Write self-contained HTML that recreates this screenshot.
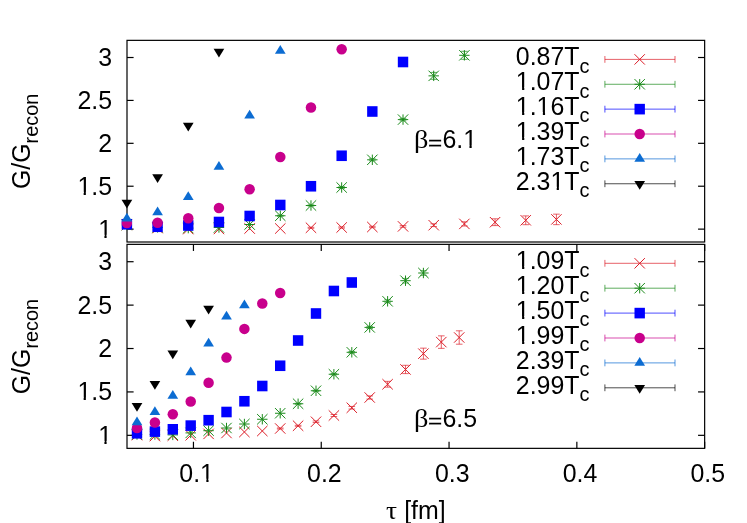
<!DOCTYPE html>
<html><head><meta charset="utf-8"><title>G/Grecon</title>
<style>
html,body{margin:0;padding:0;background:#fff;}
body{width:747px;height:523px;overflow:hidden;}
svg{display:block;will-change:transform;}
text{font-family:"Liberation Sans",sans-serif;fill:#000;font-kerning:none;}
text.sy{font-family:"Liberation Serif",serif;}
</style></head><body>
<svg width="747" height="523" viewBox="0 0 747 523">
<rect width="747" height="523" fill="#fff"/>
<rect x="127.0" y="40.35" width="577.65" height="201.65" fill="none" stroke="#000" stroke-width="1.2"/>
<line x1="127.00" y1="229.13" x2="133.60" y2="229.13" stroke="#000" stroke-width="1.2"/>
<line x1="704.65" y1="229.13" x2="698.05" y2="229.13" stroke="#000" stroke-width="1.2"/>
<text x="98.15" y="237.58" font-size="24.9">1</text>
<rect x="99.02" y="234.72" width="5.39" height="4.36" fill="#fff"/>
<rect x="106.61" y="234.72" width="5.18" height="4.36" fill="#fff"/>
<line x1="127.00" y1="186.22" x2="133.60" y2="186.22" stroke="#000" stroke-width="1.2"/>
<line x1="704.65" y1="186.22" x2="698.05" y2="186.22" stroke="#000" stroke-width="1.2"/>
<text x="77.39" y="194.67" font-size="24.9">1.5</text>
<rect x="78.26" y="191.81" width="5.39" height="4.36" fill="#fff"/>
<rect x="85.85" y="191.81" width="5.18" height="4.36" fill="#fff"/>
<line x1="127.00" y1="143.32" x2="133.60" y2="143.32" stroke="#000" stroke-width="1.2"/>
<line x1="704.65" y1="143.32" x2="698.05" y2="143.32" stroke="#000" stroke-width="1.2"/>
<text x="98.15" y="151.77" font-size="24.9">2</text>
<line x1="127.00" y1="100.42" x2="133.60" y2="100.42" stroke="#000" stroke-width="1.2"/>
<line x1="704.65" y1="100.42" x2="698.05" y2="100.42" stroke="#000" stroke-width="1.2"/>
<text x="77.39" y="108.87" font-size="24.9">2.5</text>
<line x1="127.00" y1="57.51" x2="133.60" y2="57.51" stroke="#000" stroke-width="1.2"/>
<line x1="704.65" y1="57.51" x2="698.05" y2="57.51" stroke="#000" stroke-width="1.2"/>
<text x="98.15" y="65.96" font-size="24.9">3</text>
<text x="515.83" y="65.25" font-size="24.9">0.87T</text>
<text x="579.5" y="72.75" font-size="19.9">c</text>
<line x1="604.90" y1="59.40" x2="675.00" y2="59.40" stroke="#dc1e28" stroke-width="0.7"/>
<line x1="604.90" y1="56.00" x2="604.90" y2="62.80" stroke="#dc1e28" stroke-width="0.7"/>
<line x1="675.00" y1="56.00" x2="675.00" y2="62.80" stroke="#dc1e28" stroke-width="0.7"/>
<line x1="634.50" y1="54.20" x2="644.90" y2="64.60" stroke="#dc1e28" stroke-width="1.0"/>
<line x1="634.50" y1="64.60" x2="644.90" y2="54.20" stroke="#dc1e28" stroke-width="1.0"/>
<text x="515.83" y="90.12" font-size="24.9">1.07T</text>
<rect x="516.70" y="87.26" width="5.39" height="4.36" fill="#fff"/>
<rect x="524.29" y="87.26" width="5.18" height="4.36" fill="#fff"/>
<text x="579.5" y="97.62" font-size="19.9">c</text>
<line x1="604.90" y1="84.27" x2="675.00" y2="84.27" stroke="#1a8a1a" stroke-width="0.7"/>
<line x1="604.90" y1="80.87" x2="604.90" y2="87.67" stroke="#1a8a1a" stroke-width="0.7"/>
<line x1="675.00" y1="80.87" x2="675.00" y2="87.67" stroke="#1a8a1a" stroke-width="0.7"/>
<line x1="634.50" y1="84.27" x2="644.90" y2="84.27" stroke="#1a8a1a" stroke-width="1.0"/>
<line x1="639.70" y1="79.07" x2="639.70" y2="89.47" stroke="#1a8a1a" stroke-width="1.0"/>
<line x1="634.50" y1="79.07" x2="644.90" y2="89.47" stroke="#1a8a1a" stroke-width="1.0"/>
<line x1="634.50" y1="89.47" x2="644.90" y2="79.07" stroke="#1a8a1a" stroke-width="1.0"/>
<text x="515.83" y="114.99" font-size="24.9">1.16T</text>
<rect x="516.70" y="112.13" width="5.39" height="4.36" fill="#fff"/>
<rect x="524.29" y="112.13" width="5.18" height="4.36" fill="#fff"/>
<rect x="537.47" y="112.13" width="5.39" height="4.36" fill="#fff"/>
<rect x="545.05" y="112.13" width="5.18" height="4.36" fill="#fff"/>
<text x="579.5" y="122.49" font-size="19.9">c</text>
<line x1="604.90" y1="109.14" x2="675.00" y2="109.14" stroke="#0000ff" stroke-width="0.7"/>
<line x1="604.90" y1="105.74" x2="604.90" y2="112.54" stroke="#0000ff" stroke-width="0.7"/>
<line x1="675.00" y1="105.74" x2="675.00" y2="112.54" stroke="#0000ff" stroke-width="0.7"/>
<rect x="634.50" y="103.84" width="10.4" height="10.6" fill="#0000ff"/>
<text x="515.83" y="139.86" font-size="24.9">1.39T</text>
<rect x="516.70" y="137.00" width="5.39" height="4.36" fill="#fff"/>
<rect x="524.29" y="137.00" width="5.18" height="4.36" fill="#fff"/>
<text x="579.5" y="147.36" font-size="19.9">c</text>
<line x1="604.90" y1="134.01" x2="675.00" y2="134.01" stroke="#c8008c" stroke-width="0.7"/>
<line x1="604.90" y1="130.61" x2="604.90" y2="137.41" stroke="#c8008c" stroke-width="0.7"/>
<line x1="675.00" y1="130.61" x2="675.00" y2="137.41" stroke="#c8008c" stroke-width="0.7"/>
<circle cx="639.70" cy="134.01" r="5.25" fill="#c8008c"/>
<text x="515.83" y="164.73" font-size="24.9">1.73T</text>
<rect x="516.70" y="161.87" width="5.39" height="4.36" fill="#fff"/>
<rect x="524.29" y="161.87" width="5.18" height="4.36" fill="#fff"/>
<text x="579.5" y="172.23" font-size="19.9">c</text>
<line x1="604.90" y1="158.88" x2="675.00" y2="158.88" stroke="#0c6cd2" stroke-width="0.7"/>
<line x1="604.90" y1="155.48" x2="604.90" y2="162.28" stroke="#0c6cd2" stroke-width="0.7"/>
<line x1="675.00" y1="155.48" x2="675.00" y2="162.28" stroke="#0c6cd2" stroke-width="0.7"/>
<path d="M639.70 152.95L634.35 161.69L645.05 161.69Z" fill="#0c6cd2"/>
<text x="515.83" y="189.60" font-size="24.9">2.31T</text>
<rect x="551.31" y="186.74" width="5.39" height="4.36" fill="#fff"/>
<rect x="558.90" y="186.74" width="5.18" height="4.36" fill="#fff"/>
<text x="579.5" y="197.10" font-size="19.9">c</text>
<line x1="604.90" y1="183.75" x2="675.00" y2="183.75" stroke="#000000" stroke-width="0.7"/>
<line x1="604.90" y1="180.35" x2="604.90" y2="187.15" stroke="#000000" stroke-width="0.7"/>
<line x1="675.00" y1="180.35" x2="675.00" y2="187.15" stroke="#000000" stroke-width="0.7"/>
<path d="M639.70 189.68L634.35 180.94L645.05 180.94Z" fill="#000000"/>
<line x1="121.70" y1="219.80" x2="132.10" y2="230.20" stroke="#dc1e28" stroke-width="1.0"/>
<line x1="121.70" y1="230.20" x2="132.10" y2="219.80" stroke="#dc1e28" stroke-width="1.0"/>
<line x1="152.38" y1="222.90" x2="162.78" y2="233.30" stroke="#dc1e28" stroke-width="1.0"/>
<line x1="152.38" y1="233.30" x2="162.78" y2="222.90" stroke="#dc1e28" stroke-width="1.0"/>
<line x1="183.06" y1="223.90" x2="193.46" y2="234.30" stroke="#dc1e28" stroke-width="1.0"/>
<line x1="183.06" y1="234.30" x2="193.46" y2="223.90" stroke="#dc1e28" stroke-width="1.0"/>
<line x1="213.74" y1="223.80" x2="224.14" y2="234.20" stroke="#dc1e28" stroke-width="1.0"/>
<line x1="213.74" y1="234.20" x2="224.14" y2="223.80" stroke="#dc1e28" stroke-width="1.0"/>
<line x1="244.42" y1="223.30" x2="254.82" y2="233.70" stroke="#dc1e28" stroke-width="1.0"/>
<line x1="244.42" y1="233.70" x2="254.82" y2="223.30" stroke="#dc1e28" stroke-width="1.0"/>
<line x1="275.10" y1="223.30" x2="285.50" y2="233.70" stroke="#dc1e28" stroke-width="1.0"/>
<line x1="275.10" y1="233.70" x2="285.50" y2="223.30" stroke="#dc1e28" stroke-width="1.0"/>
<line x1="310.98" y1="227.25" x2="310.98" y2="228.25" stroke="#dc1e28" stroke-width="0.7"/>
<line x1="307.68" y1="227.25" x2="314.28" y2="227.25" stroke="#dc1e28" stroke-width="0.7"/>
<line x1="307.68" y1="228.25" x2="314.28" y2="228.25" stroke="#dc1e28" stroke-width="0.7"/>
<line x1="305.78" y1="222.55" x2="316.18" y2="232.95" stroke="#dc1e28" stroke-width="1.0"/>
<line x1="305.78" y1="232.95" x2="316.18" y2="222.55" stroke="#dc1e28" stroke-width="1.0"/>
<line x1="341.66" y1="226.90" x2="341.66" y2="228.10" stroke="#dc1e28" stroke-width="0.7"/>
<line x1="338.36" y1="226.90" x2="344.96" y2="226.90" stroke="#dc1e28" stroke-width="0.7"/>
<line x1="338.36" y1="228.10" x2="344.96" y2="228.10" stroke="#dc1e28" stroke-width="0.7"/>
<line x1="336.46" y1="222.30" x2="346.86" y2="232.70" stroke="#dc1e28" stroke-width="1.0"/>
<line x1="336.46" y1="232.70" x2="346.86" y2="222.30" stroke="#dc1e28" stroke-width="1.0"/>
<line x1="372.34" y1="226.30" x2="372.34" y2="227.70" stroke="#dc1e28" stroke-width="0.7"/>
<line x1="369.04" y1="226.30" x2="375.64" y2="226.30" stroke="#dc1e28" stroke-width="0.7"/>
<line x1="369.04" y1="227.70" x2="375.64" y2="227.70" stroke="#dc1e28" stroke-width="0.7"/>
<line x1="367.14" y1="221.80" x2="377.54" y2="232.20" stroke="#dc1e28" stroke-width="1.0"/>
<line x1="367.14" y1="232.20" x2="377.54" y2="221.80" stroke="#dc1e28" stroke-width="1.0"/>
<line x1="403.02" y1="225.60" x2="403.02" y2="227.20" stroke="#dc1e28" stroke-width="0.7"/>
<line x1="399.72" y1="225.60" x2="406.32" y2="225.60" stroke="#dc1e28" stroke-width="0.7"/>
<line x1="399.72" y1="227.20" x2="406.32" y2="227.20" stroke="#dc1e28" stroke-width="0.7"/>
<line x1="397.82" y1="221.20" x2="408.22" y2="231.60" stroke="#dc1e28" stroke-width="1.0"/>
<line x1="397.82" y1="231.60" x2="408.22" y2="221.20" stroke="#dc1e28" stroke-width="1.0"/>
<line x1="433.70" y1="223.80" x2="433.70" y2="226.60" stroke="#dc1e28" stroke-width="0.7"/>
<line x1="430.40" y1="223.80" x2="437.00" y2="223.80" stroke="#dc1e28" stroke-width="0.7"/>
<line x1="430.40" y1="226.60" x2="437.00" y2="226.60" stroke="#dc1e28" stroke-width="0.7"/>
<line x1="428.50" y1="220.00" x2="438.90" y2="230.40" stroke="#dc1e28" stroke-width="1.0"/>
<line x1="428.50" y1="230.40" x2="438.90" y2="220.00" stroke="#dc1e28" stroke-width="1.0"/>
<line x1="464.38" y1="221.80" x2="464.38" y2="226.00" stroke="#dc1e28" stroke-width="0.7"/>
<line x1="461.08" y1="221.80" x2="467.68" y2="221.80" stroke="#dc1e28" stroke-width="0.7"/>
<line x1="461.08" y1="226.00" x2="467.68" y2="226.00" stroke="#dc1e28" stroke-width="0.7"/>
<line x1="459.18" y1="218.70" x2="469.58" y2="229.10" stroke="#dc1e28" stroke-width="1.0"/>
<line x1="459.18" y1="229.10" x2="469.58" y2="218.70" stroke="#dc1e28" stroke-width="1.0"/>
<line x1="495.06" y1="218.80" x2="495.06" y2="225.60" stroke="#dc1e28" stroke-width="0.7"/>
<line x1="491.76" y1="218.80" x2="498.36" y2="218.80" stroke="#dc1e28" stroke-width="0.7"/>
<line x1="491.76" y1="225.60" x2="498.36" y2="225.60" stroke="#dc1e28" stroke-width="0.7"/>
<line x1="489.86" y1="217.00" x2="500.26" y2="227.40" stroke="#dc1e28" stroke-width="1.0"/>
<line x1="489.86" y1="227.40" x2="500.26" y2="217.00" stroke="#dc1e28" stroke-width="1.0"/>
<line x1="525.74" y1="215.90" x2="525.74" y2="224.70" stroke="#dc1e28" stroke-width="0.7"/>
<line x1="522.44" y1="215.90" x2="529.04" y2="215.90" stroke="#dc1e28" stroke-width="0.7"/>
<line x1="522.44" y1="224.70" x2="529.04" y2="224.70" stroke="#dc1e28" stroke-width="0.7"/>
<line x1="520.54" y1="215.10" x2="530.94" y2="225.50" stroke="#dc1e28" stroke-width="1.0"/>
<line x1="520.54" y1="225.50" x2="530.94" y2="215.10" stroke="#dc1e28" stroke-width="1.0"/>
<line x1="556.42" y1="214.15" x2="556.42" y2="224.65" stroke="#dc1e28" stroke-width="0.7"/>
<line x1="553.12" y1="214.15" x2="559.72" y2="214.15" stroke="#dc1e28" stroke-width="0.7"/>
<line x1="553.12" y1="224.65" x2="559.72" y2="224.65" stroke="#dc1e28" stroke-width="0.7"/>
<line x1="551.22" y1="214.20" x2="561.62" y2="224.60" stroke="#dc1e28" stroke-width="1.0"/>
<line x1="551.22" y1="224.60" x2="561.62" y2="214.20" stroke="#dc1e28" stroke-width="1.0"/>
<line x1="121.70" y1="225.00" x2="132.10" y2="225.00" stroke="#1a8a1a" stroke-width="1.0"/>
<line x1="126.90" y1="219.80" x2="126.90" y2="230.20" stroke="#1a8a1a" stroke-width="1.0"/>
<line x1="121.70" y1="219.80" x2="132.10" y2="230.20" stroke="#1a8a1a" stroke-width="1.0"/>
<line x1="121.70" y1="230.20" x2="132.10" y2="219.80" stroke="#1a8a1a" stroke-width="1.0"/>
<line x1="152.38" y1="227.40" x2="162.78" y2="227.40" stroke="#1a8a1a" stroke-width="1.0"/>
<line x1="157.58" y1="222.20" x2="157.58" y2="232.60" stroke="#1a8a1a" stroke-width="1.0"/>
<line x1="152.38" y1="222.20" x2="162.78" y2="232.60" stroke="#1a8a1a" stroke-width="1.0"/>
<line x1="152.38" y1="232.60" x2="162.78" y2="222.20" stroke="#1a8a1a" stroke-width="1.0"/>
<line x1="183.06" y1="228.10" x2="193.46" y2="228.10" stroke="#1a8a1a" stroke-width="1.0"/>
<line x1="188.26" y1="222.90" x2="188.26" y2="233.30" stroke="#1a8a1a" stroke-width="1.0"/>
<line x1="183.06" y1="222.90" x2="193.46" y2="233.30" stroke="#1a8a1a" stroke-width="1.0"/>
<line x1="183.06" y1="233.30" x2="193.46" y2="222.90" stroke="#1a8a1a" stroke-width="1.0"/>
<line x1="213.74" y1="227.50" x2="224.14" y2="227.50" stroke="#1a8a1a" stroke-width="1.0"/>
<line x1="218.94" y1="222.30" x2="218.94" y2="232.70" stroke="#1a8a1a" stroke-width="1.0"/>
<line x1="213.74" y1="222.30" x2="224.14" y2="232.70" stroke="#1a8a1a" stroke-width="1.0"/>
<line x1="213.74" y1="232.70" x2="224.14" y2="222.30" stroke="#1a8a1a" stroke-width="1.0"/>
<line x1="244.42" y1="224.50" x2="254.82" y2="224.50" stroke="#1a8a1a" stroke-width="1.0"/>
<line x1="249.62" y1="219.30" x2="249.62" y2="229.70" stroke="#1a8a1a" stroke-width="1.0"/>
<line x1="244.42" y1="219.30" x2="254.82" y2="229.70" stroke="#1a8a1a" stroke-width="1.0"/>
<line x1="244.42" y1="229.70" x2="254.82" y2="219.30" stroke="#1a8a1a" stroke-width="1.0"/>
<line x1="280.30" y1="215.25" x2="280.30" y2="216.25" stroke="#1a8a1a" stroke-width="0.7"/>
<line x1="277.00" y1="215.25" x2="283.60" y2="215.25" stroke="#1a8a1a" stroke-width="0.7"/>
<line x1="277.00" y1="216.25" x2="283.60" y2="216.25" stroke="#1a8a1a" stroke-width="0.7"/>
<line x1="275.10" y1="215.75" x2="285.50" y2="215.75" stroke="#1a8a1a" stroke-width="1.0"/>
<line x1="280.30" y1="210.55" x2="280.30" y2="220.95" stroke="#1a8a1a" stroke-width="1.0"/>
<line x1="275.10" y1="210.55" x2="285.50" y2="220.95" stroke="#1a8a1a" stroke-width="1.0"/>
<line x1="275.10" y1="220.95" x2="285.50" y2="210.55" stroke="#1a8a1a" stroke-width="1.0"/>
<line x1="310.98" y1="204.90" x2="310.98" y2="206.10" stroke="#1a8a1a" stroke-width="0.7"/>
<line x1="307.68" y1="204.90" x2="314.28" y2="204.90" stroke="#1a8a1a" stroke-width="0.7"/>
<line x1="307.68" y1="206.10" x2="314.28" y2="206.10" stroke="#1a8a1a" stroke-width="0.7"/>
<line x1="305.78" y1="205.50" x2="316.18" y2="205.50" stroke="#1a8a1a" stroke-width="1.0"/>
<line x1="310.98" y1="200.30" x2="310.98" y2="210.70" stroke="#1a8a1a" stroke-width="1.0"/>
<line x1="305.78" y1="200.30" x2="316.18" y2="210.70" stroke="#1a8a1a" stroke-width="1.0"/>
<line x1="305.78" y1="210.70" x2="316.18" y2="200.30" stroke="#1a8a1a" stroke-width="1.0"/>
<line x1="341.66" y1="186.70" x2="341.66" y2="188.30" stroke="#1a8a1a" stroke-width="0.7"/>
<line x1="338.36" y1="186.70" x2="344.96" y2="186.70" stroke="#1a8a1a" stroke-width="0.7"/>
<line x1="338.36" y1="188.30" x2="344.96" y2="188.30" stroke="#1a8a1a" stroke-width="0.7"/>
<line x1="336.46" y1="187.50" x2="346.86" y2="187.50" stroke="#1a8a1a" stroke-width="1.0"/>
<line x1="341.66" y1="182.30" x2="341.66" y2="192.70" stroke="#1a8a1a" stroke-width="1.0"/>
<line x1="336.46" y1="182.30" x2="346.86" y2="192.70" stroke="#1a8a1a" stroke-width="1.0"/>
<line x1="336.46" y1="192.70" x2="346.86" y2="182.30" stroke="#1a8a1a" stroke-width="1.0"/>
<line x1="372.34" y1="158.80" x2="372.34" y2="160.80" stroke="#1a8a1a" stroke-width="0.7"/>
<line x1="369.04" y1="158.80" x2="375.64" y2="158.80" stroke="#1a8a1a" stroke-width="0.7"/>
<line x1="369.04" y1="160.80" x2="375.64" y2="160.80" stroke="#1a8a1a" stroke-width="0.7"/>
<line x1="367.14" y1="159.80" x2="377.54" y2="159.80" stroke="#1a8a1a" stroke-width="1.0"/>
<line x1="372.34" y1="154.60" x2="372.34" y2="165.00" stroke="#1a8a1a" stroke-width="1.0"/>
<line x1="367.14" y1="154.60" x2="377.54" y2="165.00" stroke="#1a8a1a" stroke-width="1.0"/>
<line x1="367.14" y1="165.00" x2="377.54" y2="154.60" stroke="#1a8a1a" stroke-width="1.0"/>
<line x1="403.02" y1="118.40" x2="403.02" y2="120.80" stroke="#1a8a1a" stroke-width="0.7"/>
<line x1="399.72" y1="118.40" x2="406.32" y2="118.40" stroke="#1a8a1a" stroke-width="0.7"/>
<line x1="399.72" y1="120.80" x2="406.32" y2="120.80" stroke="#1a8a1a" stroke-width="0.7"/>
<line x1="397.82" y1="119.60" x2="408.22" y2="119.60" stroke="#1a8a1a" stroke-width="1.0"/>
<line x1="403.02" y1="114.40" x2="403.02" y2="124.80" stroke="#1a8a1a" stroke-width="1.0"/>
<line x1="397.82" y1="114.40" x2="408.22" y2="124.80" stroke="#1a8a1a" stroke-width="1.0"/>
<line x1="397.82" y1="124.80" x2="408.22" y2="114.40" stroke="#1a8a1a" stroke-width="1.0"/>
<line x1="433.70" y1="72.40" x2="433.70" y2="79.30" stroke="#1a8a1a" stroke-width="0.7"/>
<line x1="430.40" y1="72.40" x2="437.00" y2="72.40" stroke="#1a8a1a" stroke-width="0.7"/>
<line x1="430.40" y1="79.30" x2="437.00" y2="79.30" stroke="#1a8a1a" stroke-width="0.7"/>
<line x1="428.50" y1="75.85" x2="438.90" y2="75.85" stroke="#1a8a1a" stroke-width="1.0"/>
<line x1="433.70" y1="70.65" x2="433.70" y2="81.05" stroke="#1a8a1a" stroke-width="1.0"/>
<line x1="428.50" y1="70.65" x2="438.90" y2="81.05" stroke="#1a8a1a" stroke-width="1.0"/>
<line x1="428.50" y1="81.05" x2="438.90" y2="70.65" stroke="#1a8a1a" stroke-width="1.0"/>
<line x1="464.38" y1="51.30" x2="464.38" y2="59.30" stroke="#1a8a1a" stroke-width="0.7"/>
<line x1="461.08" y1="51.30" x2="467.68" y2="51.30" stroke="#1a8a1a" stroke-width="0.7"/>
<line x1="461.08" y1="59.30" x2="467.68" y2="59.30" stroke="#1a8a1a" stroke-width="0.7"/>
<line x1="459.18" y1="55.30" x2="469.58" y2="55.30" stroke="#1a8a1a" stroke-width="1.0"/>
<line x1="464.38" y1="50.10" x2="464.38" y2="60.50" stroke="#1a8a1a" stroke-width="1.0"/>
<line x1="459.18" y1="50.10" x2="469.58" y2="60.50" stroke="#1a8a1a" stroke-width="1.0"/>
<line x1="459.18" y1="60.50" x2="469.58" y2="50.10" stroke="#1a8a1a" stroke-width="1.0"/>
<rect x="121.70" y="218.95" width="10.4" height="10.6" fill="#0000ff"/>
<rect x="152.38" y="221.45" width="10.4" height="10.6" fill="#0000ff"/>
<rect x="183.06" y="220.20" width="10.4" height="10.6" fill="#0000ff"/>
<rect x="213.74" y="216.70" width="10.4" height="10.6" fill="#0000ff"/>
<rect x="244.42" y="210.70" width="10.4" height="10.6" fill="#0000ff"/>
<rect x="275.10" y="199.70" width="10.4" height="10.6" fill="#0000ff"/>
<rect x="305.78" y="180.95" width="10.4" height="10.6" fill="#0000ff"/>
<rect x="336.46" y="150.45" width="10.4" height="10.6" fill="#0000ff"/>
<rect x="367.14" y="106.20" width="10.4" height="10.6" fill="#0000ff"/>
<rect x="397.82" y="56.70" width="10.4" height="10.6" fill="#0000ff"/>
<circle cx="126.90" cy="223.00" r="5.25" fill="#c8008c"/>
<circle cx="157.58" cy="222.75" r="5.25" fill="#c8008c"/>
<circle cx="188.26" cy="218.25" r="5.25" fill="#c8008c"/>
<circle cx="218.94" cy="208.00" r="5.25" fill="#c8008c"/>
<circle cx="249.62" cy="189.25" r="5.25" fill="#c8008c"/>
<circle cx="280.30" cy="157.00" r="5.25" fill="#c8008c"/>
<circle cx="310.98" cy="107.50" r="5.25" fill="#c8008c"/>
<circle cx="341.66" cy="49.25" r="5.25" fill="#c8008c"/>
<path d="M126.90 212.67L121.55 221.41L132.25 221.41Z" fill="#0c6cd2"/>
<path d="M157.58 206.57L152.23 215.31L162.93 215.31Z" fill="#0c6cd2"/>
<path d="M188.26 191.37L182.91 200.11L193.61 200.11Z" fill="#0c6cd2"/>
<path d="M218.94 161.07L213.59 169.81L224.29 169.81Z" fill="#0c6cd2"/>
<path d="M249.62 109.77L244.27 118.51L254.97 118.51Z" fill="#0c6cd2"/>
<path d="M280.30 45.07L274.95 53.81L285.65 53.81Z" fill="#0c6cd2"/>
<path d="M126.90 208.43L121.55 199.69L132.25 199.69Z" fill="#000000"/>
<path d="M157.58 182.93L152.23 174.19L162.93 174.19Z" fill="#000000"/>
<path d="M188.26 131.43L182.91 122.69L193.61 122.69Z" fill="#000000"/>
<path d="M218.94 57.43L213.59 48.69L224.29 48.69Z" fill="#000000"/>
<text transform="translate(414.0 148.3) scale(1.09 1)" class="sy" font-size="26.1">β</text>
<text transform="translate(428.1 148.70000000000002) scale(0.975 0.72)" font-size="24.9" stroke="#000" stroke-width="0.35">=</text>
<text x="442.44" y="148.40" font-size="24.9">6.1</text>
<rect x="464.08" y="145.54" width="5.39" height="4.36" fill="#fff"/>
<rect x="471.67" y="145.54" width="5.18" height="4.36" fill="#fff"/>
<g transform="translate(29.8 189.12) rotate(-90)"><text x="0" y="0" font-size="24.9">G/G</text><text x="45.7" y="8" font-size="19.9">recon</text></g>
<rect x="127.0" y="244.35" width="577.65" height="204.00" fill="none" stroke="#000" stroke-width="1.2"/>
<line x1="127.00" y1="435.33" x2="133.60" y2="435.33" stroke="#000" stroke-width="1.2"/>
<line x1="704.65" y1="435.33" x2="698.05" y2="435.33" stroke="#000" stroke-width="1.2"/>
<text x="98.15" y="443.78" font-size="24.9">1</text>
<rect x="99.02" y="440.92" width="5.39" height="4.36" fill="#fff"/>
<rect x="106.61" y="440.92" width="5.18" height="4.36" fill="#fff"/>
<line x1="127.00" y1="391.92" x2="133.60" y2="391.92" stroke="#000" stroke-width="1.2"/>
<line x1="704.65" y1="391.92" x2="698.05" y2="391.92" stroke="#000" stroke-width="1.2"/>
<text x="77.39" y="400.37" font-size="24.9">1.5</text>
<rect x="78.26" y="397.51" width="5.39" height="4.36" fill="#fff"/>
<rect x="85.85" y="397.51" width="5.18" height="4.36" fill="#fff"/>
<line x1="127.00" y1="348.52" x2="133.60" y2="348.52" stroke="#000" stroke-width="1.2"/>
<line x1="704.65" y1="348.52" x2="698.05" y2="348.52" stroke="#000" stroke-width="1.2"/>
<text x="98.15" y="356.97" font-size="24.9">2</text>
<line x1="127.00" y1="305.12" x2="133.60" y2="305.12" stroke="#000" stroke-width="1.2"/>
<line x1="704.65" y1="305.12" x2="698.05" y2="305.12" stroke="#000" stroke-width="1.2"/>
<text x="77.39" y="313.57" font-size="24.9">2.5</text>
<line x1="127.00" y1="261.71" x2="133.60" y2="261.71" stroke="#000" stroke-width="1.2"/>
<line x1="704.65" y1="261.71" x2="698.05" y2="261.71" stroke="#000" stroke-width="1.2"/>
<text x="98.15" y="270.16" font-size="24.9">3</text>
<line x1="193.45" y1="448.35" x2="193.45" y2="441.75" stroke="#000" stroke-width="1.2"/>
<line x1="193.45" y1="244.35" x2="193.45" y2="250.95" stroke="#000" stroke-width="1.2"/>
<text x="179.30" y="481.50" font-size="24.9">0.1</text>
<rect x="200.94" y="478.64" width="5.39" height="4.36" fill="#fff"/>
<rect x="208.53" y="478.64" width="5.18" height="4.36" fill="#fff"/>
<line x1="321.25" y1="448.35" x2="321.25" y2="441.75" stroke="#000" stroke-width="1.2"/>
<line x1="321.25" y1="244.35" x2="321.25" y2="250.95" stroke="#000" stroke-width="1.2"/>
<text x="307.10" y="481.50" font-size="24.9">0.2</text>
<line x1="449.05" y1="448.35" x2="449.05" y2="441.75" stroke="#000" stroke-width="1.2"/>
<line x1="449.05" y1="244.35" x2="449.05" y2="250.95" stroke="#000" stroke-width="1.2"/>
<text x="434.90" y="481.50" font-size="24.9">0.3</text>
<line x1="576.85" y1="448.35" x2="576.85" y2="441.75" stroke="#000" stroke-width="1.2"/>
<line x1="576.85" y1="244.35" x2="576.85" y2="250.95" stroke="#000" stroke-width="1.2"/>
<text x="562.70" y="481.50" font-size="24.9">0.4</text>
<line x1="704.65" y1="448.35" x2="704.65" y2="441.75" stroke="#000" stroke-width="1.2"/>
<line x1="704.65" y1="244.35" x2="704.65" y2="250.95" stroke="#000" stroke-width="1.2"/>
<text x="690.50" y="481.50" font-size="24.9">0.5</text>
<text x="515.83" y="269.15" font-size="24.9">1.09T</text>
<rect x="516.70" y="266.29" width="5.39" height="4.36" fill="#fff"/>
<rect x="524.29" y="266.29" width="5.18" height="4.36" fill="#fff"/>
<text x="579.5" y="276.65" font-size="19.9">c</text>
<line x1="604.90" y1="263.30" x2="675.00" y2="263.30" stroke="#dc1e28" stroke-width="0.7"/>
<line x1="604.90" y1="259.90" x2="604.90" y2="266.70" stroke="#dc1e28" stroke-width="0.7"/>
<line x1="675.00" y1="259.90" x2="675.00" y2="266.70" stroke="#dc1e28" stroke-width="0.7"/>
<line x1="634.50" y1="258.10" x2="644.90" y2="268.50" stroke="#dc1e28" stroke-width="1.0"/>
<line x1="634.50" y1="268.50" x2="644.90" y2="258.10" stroke="#dc1e28" stroke-width="1.0"/>
<text x="515.83" y="294.05" font-size="24.9">1.20T</text>
<rect x="516.70" y="291.19" width="5.39" height="4.36" fill="#fff"/>
<rect x="524.29" y="291.19" width="5.18" height="4.36" fill="#fff"/>
<text x="579.5" y="301.55" font-size="19.9">c</text>
<line x1="604.90" y1="288.20" x2="675.00" y2="288.20" stroke="#1a8a1a" stroke-width="0.7"/>
<line x1="604.90" y1="284.80" x2="604.90" y2="291.60" stroke="#1a8a1a" stroke-width="0.7"/>
<line x1="675.00" y1="284.80" x2="675.00" y2="291.60" stroke="#1a8a1a" stroke-width="0.7"/>
<line x1="634.50" y1="288.20" x2="644.90" y2="288.20" stroke="#1a8a1a" stroke-width="1.0"/>
<line x1="639.70" y1="283.00" x2="639.70" y2="293.40" stroke="#1a8a1a" stroke-width="1.0"/>
<line x1="634.50" y1="283.00" x2="644.90" y2="293.40" stroke="#1a8a1a" stroke-width="1.0"/>
<line x1="634.50" y1="293.40" x2="644.90" y2="283.00" stroke="#1a8a1a" stroke-width="1.0"/>
<text x="515.83" y="318.95" font-size="24.9">1.50T</text>
<rect x="516.70" y="316.09" width="5.39" height="4.36" fill="#fff"/>
<rect x="524.29" y="316.09" width="5.18" height="4.36" fill="#fff"/>
<text x="579.5" y="326.45" font-size="19.9">c</text>
<line x1="604.90" y1="313.10" x2="675.00" y2="313.10" stroke="#0000ff" stroke-width="0.7"/>
<line x1="604.90" y1="309.70" x2="604.90" y2="316.50" stroke="#0000ff" stroke-width="0.7"/>
<line x1="675.00" y1="309.70" x2="675.00" y2="316.50" stroke="#0000ff" stroke-width="0.7"/>
<rect x="634.50" y="307.80" width="10.4" height="10.6" fill="#0000ff"/>
<text x="515.83" y="343.85" font-size="24.9">1.99T</text>
<rect x="516.70" y="340.99" width="5.39" height="4.36" fill="#fff"/>
<rect x="524.29" y="340.99" width="5.18" height="4.36" fill="#fff"/>
<text x="579.5" y="351.35" font-size="19.9">c</text>
<line x1="604.90" y1="338.00" x2="675.00" y2="338.00" stroke="#c8008c" stroke-width="0.7"/>
<line x1="604.90" y1="334.60" x2="604.90" y2="341.40" stroke="#c8008c" stroke-width="0.7"/>
<line x1="675.00" y1="334.60" x2="675.00" y2="341.40" stroke="#c8008c" stroke-width="0.7"/>
<circle cx="639.70" cy="338.00" r="5.25" fill="#c8008c"/>
<text x="515.83" y="368.75" font-size="24.9">2.39T</text>
<text x="579.5" y="376.25" font-size="19.9">c</text>
<line x1="604.90" y1="362.90" x2="675.00" y2="362.90" stroke="#0c6cd2" stroke-width="0.7"/>
<line x1="604.90" y1="359.50" x2="604.90" y2="366.30" stroke="#0c6cd2" stroke-width="0.7"/>
<line x1="675.00" y1="359.50" x2="675.00" y2="366.30" stroke="#0c6cd2" stroke-width="0.7"/>
<path d="M639.70 356.97L634.35 365.71L645.05 365.71Z" fill="#0c6cd2"/>
<text x="515.83" y="393.65" font-size="24.9">2.99T</text>
<text x="579.5" y="401.15" font-size="19.9">c</text>
<line x1="604.90" y1="387.80" x2="675.00" y2="387.80" stroke="#000000" stroke-width="0.7"/>
<line x1="604.90" y1="384.40" x2="604.90" y2="391.20" stroke="#000000" stroke-width="0.7"/>
<line x1="675.00" y1="384.40" x2="675.00" y2="391.20" stroke="#000000" stroke-width="0.7"/>
<path d="M639.70 393.73L634.35 384.99L645.05 384.99Z" fill="#000000"/>
<line x1="131.80" y1="429.90" x2="142.20" y2="440.30" stroke="#dc1e28" stroke-width="1.0"/>
<line x1="131.80" y1="440.30" x2="142.20" y2="429.90" stroke="#dc1e28" stroke-width="1.0"/>
<line x1="149.70" y1="430.90" x2="160.10" y2="441.30" stroke="#dc1e28" stroke-width="1.0"/>
<line x1="149.70" y1="441.30" x2="160.10" y2="430.90" stroke="#dc1e28" stroke-width="1.0"/>
<line x1="167.60" y1="430.50" x2="178.00" y2="440.90" stroke="#dc1e28" stroke-width="1.0"/>
<line x1="167.60" y1="440.90" x2="178.00" y2="430.50" stroke="#dc1e28" stroke-width="1.0"/>
<line x1="185.50" y1="430.10" x2="195.90" y2="440.50" stroke="#dc1e28" stroke-width="1.0"/>
<line x1="185.50" y1="440.50" x2="195.90" y2="430.10" stroke="#dc1e28" stroke-width="1.0"/>
<line x1="203.40" y1="428.70" x2="213.80" y2="439.10" stroke="#dc1e28" stroke-width="1.0"/>
<line x1="203.40" y1="439.10" x2="213.80" y2="428.70" stroke="#dc1e28" stroke-width="1.0"/>
<line x1="221.30" y1="427.80" x2="231.70" y2="438.20" stroke="#dc1e28" stroke-width="1.0"/>
<line x1="221.30" y1="438.20" x2="231.70" y2="427.80" stroke="#dc1e28" stroke-width="1.0"/>
<line x1="239.20" y1="426.80" x2="249.60" y2="437.20" stroke="#dc1e28" stroke-width="1.0"/>
<line x1="239.20" y1="437.20" x2="249.60" y2="426.80" stroke="#dc1e28" stroke-width="1.0"/>
<line x1="257.10" y1="425.80" x2="267.50" y2="436.20" stroke="#dc1e28" stroke-width="1.0"/>
<line x1="257.10" y1="436.20" x2="267.50" y2="425.80" stroke="#dc1e28" stroke-width="1.0"/>
<line x1="280.20" y1="428.00" x2="280.20" y2="429.00" stroke="#dc1e28" stroke-width="0.7"/>
<line x1="276.90" y1="428.00" x2="283.50" y2="428.00" stroke="#dc1e28" stroke-width="0.7"/>
<line x1="276.90" y1="429.00" x2="283.50" y2="429.00" stroke="#dc1e28" stroke-width="0.7"/>
<line x1="275.00" y1="423.30" x2="285.40" y2="433.70" stroke="#dc1e28" stroke-width="1.0"/>
<line x1="275.00" y1="433.70" x2="285.40" y2="423.30" stroke="#dc1e28" stroke-width="1.0"/>
<line x1="298.10" y1="425.25" x2="298.10" y2="426.25" stroke="#dc1e28" stroke-width="0.7"/>
<line x1="294.80" y1="425.25" x2="301.40" y2="425.25" stroke="#dc1e28" stroke-width="0.7"/>
<line x1="294.80" y1="426.25" x2="301.40" y2="426.25" stroke="#dc1e28" stroke-width="0.7"/>
<line x1="292.90" y1="420.55" x2="303.30" y2="430.95" stroke="#dc1e28" stroke-width="1.0"/>
<line x1="292.90" y1="430.95" x2="303.30" y2="420.55" stroke="#dc1e28" stroke-width="1.0"/>
<line x1="316.00" y1="420.95" x2="316.00" y2="422.55" stroke="#dc1e28" stroke-width="0.7"/>
<line x1="312.70" y1="420.95" x2="319.30" y2="420.95" stroke="#dc1e28" stroke-width="0.7"/>
<line x1="312.70" y1="422.55" x2="319.30" y2="422.55" stroke="#dc1e28" stroke-width="0.7"/>
<line x1="310.80" y1="416.55" x2="321.20" y2="426.95" stroke="#dc1e28" stroke-width="1.0"/>
<line x1="310.80" y1="426.95" x2="321.20" y2="416.55" stroke="#dc1e28" stroke-width="1.0"/>
<line x1="333.90" y1="414.50" x2="333.90" y2="416.50" stroke="#dc1e28" stroke-width="0.7"/>
<line x1="330.60" y1="414.50" x2="337.20" y2="414.50" stroke="#dc1e28" stroke-width="0.7"/>
<line x1="330.60" y1="416.50" x2="337.20" y2="416.50" stroke="#dc1e28" stroke-width="0.7"/>
<line x1="328.70" y1="410.30" x2="339.10" y2="420.70" stroke="#dc1e28" stroke-width="1.0"/>
<line x1="328.70" y1="420.70" x2="339.10" y2="410.30" stroke="#dc1e28" stroke-width="1.0"/>
<line x1="351.80" y1="406.45" x2="351.80" y2="409.05" stroke="#dc1e28" stroke-width="0.7"/>
<line x1="348.50" y1="406.45" x2="355.10" y2="406.45" stroke="#dc1e28" stroke-width="0.7"/>
<line x1="348.50" y1="409.05" x2="355.10" y2="409.05" stroke="#dc1e28" stroke-width="0.7"/>
<line x1="346.60" y1="402.55" x2="357.00" y2="412.95" stroke="#dc1e28" stroke-width="1.0"/>
<line x1="346.60" y1="412.95" x2="357.00" y2="402.55" stroke="#dc1e28" stroke-width="1.0"/>
<line x1="369.70" y1="395.90" x2="369.70" y2="399.10" stroke="#dc1e28" stroke-width="0.7"/>
<line x1="366.40" y1="395.90" x2="373.00" y2="395.90" stroke="#dc1e28" stroke-width="0.7"/>
<line x1="366.40" y1="399.10" x2="373.00" y2="399.10" stroke="#dc1e28" stroke-width="0.7"/>
<line x1="364.50" y1="392.30" x2="374.90" y2="402.70" stroke="#dc1e28" stroke-width="1.0"/>
<line x1="364.50" y1="402.70" x2="374.90" y2="392.30" stroke="#dc1e28" stroke-width="1.0"/>
<line x1="387.60" y1="381.35" x2="387.60" y2="387.15" stroke="#dc1e28" stroke-width="0.7"/>
<line x1="384.30" y1="381.35" x2="390.90" y2="381.35" stroke="#dc1e28" stroke-width="0.7"/>
<line x1="384.30" y1="387.15" x2="390.90" y2="387.15" stroke="#dc1e28" stroke-width="0.7"/>
<line x1="382.40" y1="379.05" x2="392.80" y2="389.45" stroke="#dc1e28" stroke-width="1.0"/>
<line x1="382.40" y1="389.45" x2="392.80" y2="379.05" stroke="#dc1e28" stroke-width="1.0"/>
<line x1="405.50" y1="365.30" x2="405.50" y2="373.60" stroke="#dc1e28" stroke-width="0.7"/>
<line x1="402.20" y1="365.30" x2="408.80" y2="365.30" stroke="#dc1e28" stroke-width="0.7"/>
<line x1="402.20" y1="373.60" x2="408.80" y2="373.60" stroke="#dc1e28" stroke-width="0.7"/>
<line x1="400.30" y1="364.25" x2="410.70" y2="374.65" stroke="#dc1e28" stroke-width="1.0"/>
<line x1="400.30" y1="374.65" x2="410.70" y2="364.25" stroke="#dc1e28" stroke-width="1.0"/>
<line x1="423.40" y1="348.15" x2="423.40" y2="359.15" stroke="#dc1e28" stroke-width="0.7"/>
<line x1="420.10" y1="348.15" x2="426.70" y2="348.15" stroke="#dc1e28" stroke-width="0.7"/>
<line x1="420.10" y1="359.15" x2="426.70" y2="359.15" stroke="#dc1e28" stroke-width="0.7"/>
<line x1="418.20" y1="348.45" x2="428.60" y2="358.85" stroke="#dc1e28" stroke-width="1.0"/>
<line x1="418.20" y1="358.85" x2="428.60" y2="348.45" stroke="#dc1e28" stroke-width="1.0"/>
<line x1="441.30" y1="335.85" x2="441.30" y2="348.35" stroke="#dc1e28" stroke-width="0.7"/>
<line x1="438.00" y1="335.85" x2="444.60" y2="335.85" stroke="#dc1e28" stroke-width="0.7"/>
<line x1="438.00" y1="348.35" x2="444.60" y2="348.35" stroke="#dc1e28" stroke-width="0.7"/>
<line x1="436.10" y1="336.90" x2="446.50" y2="347.30" stroke="#dc1e28" stroke-width="1.0"/>
<line x1="436.10" y1="347.30" x2="446.50" y2="336.90" stroke="#dc1e28" stroke-width="1.0"/>
<line x1="459.20" y1="330.80" x2="459.20" y2="344.20" stroke="#dc1e28" stroke-width="0.7"/>
<line x1="455.90" y1="330.80" x2="462.50" y2="330.80" stroke="#dc1e28" stroke-width="0.7"/>
<line x1="455.90" y1="344.20" x2="462.50" y2="344.20" stroke="#dc1e28" stroke-width="0.7"/>
<line x1="454.00" y1="332.30" x2="464.40" y2="342.70" stroke="#dc1e28" stroke-width="1.0"/>
<line x1="454.00" y1="342.70" x2="464.40" y2="332.30" stroke="#dc1e28" stroke-width="1.0"/>
<line x1="131.80" y1="434.50" x2="142.20" y2="434.50" stroke="#1a8a1a" stroke-width="1.0"/>
<line x1="137.00" y1="429.30" x2="137.00" y2="439.70" stroke="#1a8a1a" stroke-width="1.0"/>
<line x1="131.80" y1="429.30" x2="142.20" y2="439.70" stroke="#1a8a1a" stroke-width="1.0"/>
<line x1="131.80" y1="439.70" x2="142.20" y2="429.30" stroke="#1a8a1a" stroke-width="1.0"/>
<line x1="149.70" y1="434.50" x2="160.10" y2="434.50" stroke="#1a8a1a" stroke-width="1.0"/>
<line x1="154.90" y1="429.30" x2="154.90" y2="439.70" stroke="#1a8a1a" stroke-width="1.0"/>
<line x1="149.70" y1="429.30" x2="160.10" y2="439.70" stroke="#1a8a1a" stroke-width="1.0"/>
<line x1="149.70" y1="439.70" x2="160.10" y2="429.30" stroke="#1a8a1a" stroke-width="1.0"/>
<line x1="167.60" y1="434.90" x2="178.00" y2="434.90" stroke="#1a8a1a" stroke-width="1.0"/>
<line x1="172.80" y1="429.70" x2="172.80" y2="440.10" stroke="#1a8a1a" stroke-width="1.0"/>
<line x1="167.60" y1="429.70" x2="178.00" y2="440.10" stroke="#1a8a1a" stroke-width="1.0"/>
<line x1="167.60" y1="440.10" x2="178.00" y2="429.70" stroke="#1a8a1a" stroke-width="1.0"/>
<line x1="185.50" y1="432.90" x2="195.90" y2="432.90" stroke="#1a8a1a" stroke-width="1.0"/>
<line x1="190.70" y1="427.70" x2="190.70" y2="438.10" stroke="#1a8a1a" stroke-width="1.0"/>
<line x1="185.50" y1="427.70" x2="195.90" y2="438.10" stroke="#1a8a1a" stroke-width="1.0"/>
<line x1="185.50" y1="438.10" x2="195.90" y2="427.70" stroke="#1a8a1a" stroke-width="1.0"/>
<line x1="203.40" y1="430.70" x2="213.80" y2="430.70" stroke="#1a8a1a" stroke-width="1.0"/>
<line x1="208.60" y1="425.50" x2="208.60" y2="435.90" stroke="#1a8a1a" stroke-width="1.0"/>
<line x1="203.40" y1="425.50" x2="213.80" y2="435.90" stroke="#1a8a1a" stroke-width="1.0"/>
<line x1="203.40" y1="435.90" x2="213.80" y2="425.50" stroke="#1a8a1a" stroke-width="1.0"/>
<line x1="221.30" y1="428.00" x2="231.70" y2="428.00" stroke="#1a8a1a" stroke-width="1.0"/>
<line x1="226.50" y1="422.80" x2="226.50" y2="433.20" stroke="#1a8a1a" stroke-width="1.0"/>
<line x1="221.30" y1="422.80" x2="231.70" y2="433.20" stroke="#1a8a1a" stroke-width="1.0"/>
<line x1="221.30" y1="433.20" x2="231.70" y2="422.80" stroke="#1a8a1a" stroke-width="1.0"/>
<line x1="239.20" y1="424.00" x2="249.60" y2="424.00" stroke="#1a8a1a" stroke-width="1.0"/>
<line x1="244.40" y1="418.80" x2="244.40" y2="429.20" stroke="#1a8a1a" stroke-width="1.0"/>
<line x1="239.20" y1="418.80" x2="249.60" y2="429.20" stroke="#1a8a1a" stroke-width="1.0"/>
<line x1="239.20" y1="429.20" x2="249.60" y2="418.80" stroke="#1a8a1a" stroke-width="1.0"/>
<line x1="257.10" y1="419.25" x2="267.50" y2="419.25" stroke="#1a8a1a" stroke-width="1.0"/>
<line x1="262.30" y1="414.05" x2="262.30" y2="424.45" stroke="#1a8a1a" stroke-width="1.0"/>
<line x1="257.10" y1="414.05" x2="267.50" y2="424.45" stroke="#1a8a1a" stroke-width="1.0"/>
<line x1="257.10" y1="424.45" x2="267.50" y2="414.05" stroke="#1a8a1a" stroke-width="1.0"/>
<line x1="275.00" y1="413.25" x2="285.40" y2="413.25" stroke="#1a8a1a" stroke-width="1.0"/>
<line x1="280.20" y1="408.05" x2="280.20" y2="418.45" stroke="#1a8a1a" stroke-width="1.0"/>
<line x1="275.00" y1="408.05" x2="285.40" y2="418.45" stroke="#1a8a1a" stroke-width="1.0"/>
<line x1="275.00" y1="418.45" x2="285.40" y2="408.05" stroke="#1a8a1a" stroke-width="1.0"/>
<line x1="298.10" y1="403.25" x2="298.10" y2="404.25" stroke="#1a8a1a" stroke-width="0.7"/>
<line x1="294.80" y1="403.25" x2="301.40" y2="403.25" stroke="#1a8a1a" stroke-width="0.7"/>
<line x1="294.80" y1="404.25" x2="301.40" y2="404.25" stroke="#1a8a1a" stroke-width="0.7"/>
<line x1="292.90" y1="403.75" x2="303.30" y2="403.75" stroke="#1a8a1a" stroke-width="1.0"/>
<line x1="298.10" y1="398.55" x2="298.10" y2="408.95" stroke="#1a8a1a" stroke-width="1.0"/>
<line x1="292.90" y1="398.55" x2="303.30" y2="408.95" stroke="#1a8a1a" stroke-width="1.0"/>
<line x1="292.90" y1="408.95" x2="303.30" y2="398.55" stroke="#1a8a1a" stroke-width="1.0"/>
<line x1="316.00" y1="390.15" x2="316.00" y2="391.35" stroke="#1a8a1a" stroke-width="0.7"/>
<line x1="312.70" y1="390.15" x2="319.30" y2="390.15" stroke="#1a8a1a" stroke-width="0.7"/>
<line x1="312.70" y1="391.35" x2="319.30" y2="391.35" stroke="#1a8a1a" stroke-width="0.7"/>
<line x1="310.80" y1="390.75" x2="321.20" y2="390.75" stroke="#1a8a1a" stroke-width="1.0"/>
<line x1="316.00" y1="385.55" x2="316.00" y2="395.95" stroke="#1a8a1a" stroke-width="1.0"/>
<line x1="310.80" y1="385.55" x2="321.20" y2="395.95" stroke="#1a8a1a" stroke-width="1.0"/>
<line x1="310.80" y1="395.95" x2="321.20" y2="385.55" stroke="#1a8a1a" stroke-width="1.0"/>
<line x1="333.90" y1="373.55" x2="333.90" y2="374.95" stroke="#1a8a1a" stroke-width="0.7"/>
<line x1="330.60" y1="373.55" x2="337.20" y2="373.55" stroke="#1a8a1a" stroke-width="0.7"/>
<line x1="330.60" y1="374.95" x2="337.20" y2="374.95" stroke="#1a8a1a" stroke-width="0.7"/>
<line x1="328.70" y1="374.25" x2="339.10" y2="374.25" stroke="#1a8a1a" stroke-width="1.0"/>
<line x1="333.90" y1="369.05" x2="333.90" y2="379.45" stroke="#1a8a1a" stroke-width="1.0"/>
<line x1="328.70" y1="369.05" x2="339.10" y2="379.45" stroke="#1a8a1a" stroke-width="1.0"/>
<line x1="328.70" y1="379.45" x2="339.10" y2="369.05" stroke="#1a8a1a" stroke-width="1.0"/>
<line x1="351.80" y1="351.50" x2="351.80" y2="353.10" stroke="#1a8a1a" stroke-width="0.7"/>
<line x1="348.50" y1="351.50" x2="355.10" y2="351.50" stroke="#1a8a1a" stroke-width="0.7"/>
<line x1="348.50" y1="353.10" x2="355.10" y2="353.10" stroke="#1a8a1a" stroke-width="0.7"/>
<line x1="346.60" y1="352.30" x2="357.00" y2="352.30" stroke="#1a8a1a" stroke-width="1.0"/>
<line x1="351.80" y1="347.10" x2="351.80" y2="357.50" stroke="#1a8a1a" stroke-width="1.0"/>
<line x1="346.60" y1="347.10" x2="357.00" y2="357.50" stroke="#1a8a1a" stroke-width="1.0"/>
<line x1="346.60" y1="357.50" x2="357.00" y2="347.10" stroke="#1a8a1a" stroke-width="1.0"/>
<line x1="369.70" y1="326.40" x2="369.70" y2="328.40" stroke="#1a8a1a" stroke-width="0.7"/>
<line x1="366.40" y1="326.40" x2="373.00" y2="326.40" stroke="#1a8a1a" stroke-width="0.7"/>
<line x1="366.40" y1="328.40" x2="373.00" y2="328.40" stroke="#1a8a1a" stroke-width="0.7"/>
<line x1="364.50" y1="327.40" x2="374.90" y2="327.40" stroke="#1a8a1a" stroke-width="1.0"/>
<line x1="369.70" y1="322.20" x2="369.70" y2="332.60" stroke="#1a8a1a" stroke-width="1.0"/>
<line x1="364.50" y1="322.20" x2="374.90" y2="332.60" stroke="#1a8a1a" stroke-width="1.0"/>
<line x1="364.50" y1="332.60" x2="374.90" y2="322.20" stroke="#1a8a1a" stroke-width="1.0"/>
<line x1="387.60" y1="299.80" x2="387.60" y2="302.80" stroke="#1a8a1a" stroke-width="0.7"/>
<line x1="384.30" y1="299.80" x2="390.90" y2="299.80" stroke="#1a8a1a" stroke-width="0.7"/>
<line x1="384.30" y1="302.80" x2="390.90" y2="302.80" stroke="#1a8a1a" stroke-width="0.7"/>
<line x1="382.40" y1="301.30" x2="392.80" y2="301.30" stroke="#1a8a1a" stroke-width="1.0"/>
<line x1="387.60" y1="296.10" x2="387.60" y2="306.50" stroke="#1a8a1a" stroke-width="1.0"/>
<line x1="382.40" y1="296.10" x2="392.80" y2="306.50" stroke="#1a8a1a" stroke-width="1.0"/>
<line x1="382.40" y1="306.50" x2="392.80" y2="296.10" stroke="#1a8a1a" stroke-width="1.0"/>
<line x1="405.50" y1="278.40" x2="405.50" y2="283.00" stroke="#1a8a1a" stroke-width="0.7"/>
<line x1="402.20" y1="278.40" x2="408.80" y2="278.40" stroke="#1a8a1a" stroke-width="0.7"/>
<line x1="402.20" y1="283.00" x2="408.80" y2="283.00" stroke="#1a8a1a" stroke-width="0.7"/>
<line x1="400.30" y1="280.70" x2="410.70" y2="280.70" stroke="#1a8a1a" stroke-width="1.0"/>
<line x1="405.50" y1="275.50" x2="405.50" y2="285.90" stroke="#1a8a1a" stroke-width="1.0"/>
<line x1="400.30" y1="275.50" x2="410.70" y2="285.90" stroke="#1a8a1a" stroke-width="1.0"/>
<line x1="400.30" y1="285.90" x2="410.70" y2="275.50" stroke="#1a8a1a" stroke-width="1.0"/>
<line x1="423.40" y1="270.70" x2="423.40" y2="275.30" stroke="#1a8a1a" stroke-width="0.7"/>
<line x1="420.10" y1="270.70" x2="426.70" y2="270.70" stroke="#1a8a1a" stroke-width="0.7"/>
<line x1="420.10" y1="275.30" x2="426.70" y2="275.30" stroke="#1a8a1a" stroke-width="0.7"/>
<line x1="418.20" y1="273.00" x2="428.60" y2="273.00" stroke="#1a8a1a" stroke-width="1.0"/>
<line x1="423.40" y1="267.80" x2="423.40" y2="278.20" stroke="#1a8a1a" stroke-width="1.0"/>
<line x1="418.20" y1="267.80" x2="428.60" y2="278.20" stroke="#1a8a1a" stroke-width="1.0"/>
<line x1="418.20" y1="278.20" x2="428.60" y2="267.80" stroke="#1a8a1a" stroke-width="1.0"/>
<rect x="131.80" y="428.00" width="10.4" height="10.6" fill="#0000ff"/>
<rect x="149.70" y="426.30" width="10.4" height="10.6" fill="#0000ff"/>
<rect x="167.60" y="424.00" width="10.4" height="10.6" fill="#0000ff"/>
<rect x="185.50" y="420.30" width="10.4" height="10.6" fill="#0000ff"/>
<rect x="203.40" y="414.90" width="10.4" height="10.6" fill="#0000ff"/>
<rect x="221.30" y="406.70" width="10.4" height="10.6" fill="#0000ff"/>
<rect x="239.20" y="395.95" width="10.4" height="10.6" fill="#0000ff"/>
<rect x="257.10" y="380.70" width="10.4" height="10.6" fill="#0000ff"/>
<rect x="275.00" y="360.45" width="10.4" height="10.6" fill="#0000ff"/>
<rect x="292.90" y="335.20" width="10.4" height="10.6" fill="#0000ff"/>
<rect x="310.80" y="308.20" width="10.4" height="10.6" fill="#0000ff"/>
<rect x="328.70" y="285.70" width="10.4" height="10.6" fill="#0000ff"/>
<rect x="346.60" y="277.20" width="10.4" height="10.6" fill="#0000ff"/>
<circle cx="137.00" cy="428.00" r="5.25" fill="#c8008c"/>
<circle cx="154.90" cy="422.50" r="5.25" fill="#c8008c"/>
<circle cx="172.80" cy="414.25" r="5.25" fill="#c8008c"/>
<circle cx="190.70" cy="401.50" r="5.25" fill="#c8008c"/>
<circle cx="208.60" cy="382.75" r="5.25" fill="#c8008c"/>
<circle cx="226.50" cy="357.60" r="5.25" fill="#c8008c"/>
<circle cx="244.40" cy="328.90" r="5.25" fill="#c8008c"/>
<circle cx="262.30" cy="303.50" r="5.25" fill="#c8008c"/>
<circle cx="280.20" cy="293.00" r="5.25" fill="#c8008c"/>
<path d="M137.00 416.47L131.65 425.21L142.35 425.21Z" fill="#0c6cd2"/>
<path d="M154.90 406.27L149.55 415.01L160.25 415.01Z" fill="#0c6cd2"/>
<path d="M172.80 390.07L167.45 398.81L178.15 398.81Z" fill="#0c6cd2"/>
<path d="M190.70 366.57L185.35 375.31L196.05 375.31Z" fill="#0c6cd2"/>
<path d="M208.60 337.87L203.25 346.61L213.95 346.61Z" fill="#0c6cd2"/>
<path d="M226.50 310.87L221.15 319.61L231.85 319.61Z" fill="#0c6cd2"/>
<path d="M244.40 299.57L239.05 308.31L249.75 308.31Z" fill="#0c6cd2"/>
<path d="M137.00 411.63L131.65 402.89L142.35 402.89Z" fill="#000000"/>
<path d="M154.90 389.63L149.55 380.89L160.25 380.89Z" fill="#000000"/>
<path d="M172.80 359.13L167.45 350.39L178.15 350.39Z" fill="#000000"/>
<path d="M190.70 328.43L185.35 319.69L196.05 319.69Z" fill="#000000"/>
<path d="M208.60 314.43L203.25 305.69L213.95 305.69Z" fill="#000000"/>
<text transform="translate(414.0 426.79999999999995) scale(1.09 1)" class="sy" font-size="26.1">β</text>
<text transform="translate(428.1 427.2) scale(0.975 0.72)" font-size="24.9" stroke="#000" stroke-width="0.35">=</text>
<text x="442.44" y="426.90" font-size="24.9">6.5</text>
<g transform="translate(29.8 394.30) rotate(-90)"><text x="0" y="0" font-size="24.9">G/G</text><text x="45.7" y="8" font-size="19.9">recon</text></g>
<text transform="translate(386.1 518.7) scale(1.1 1)" class="sy" font-size="24.9">τ</text>
<text x="404.2" y="518.6" font-size="24.9">[fm]</text>
</svg>
</body></html>
